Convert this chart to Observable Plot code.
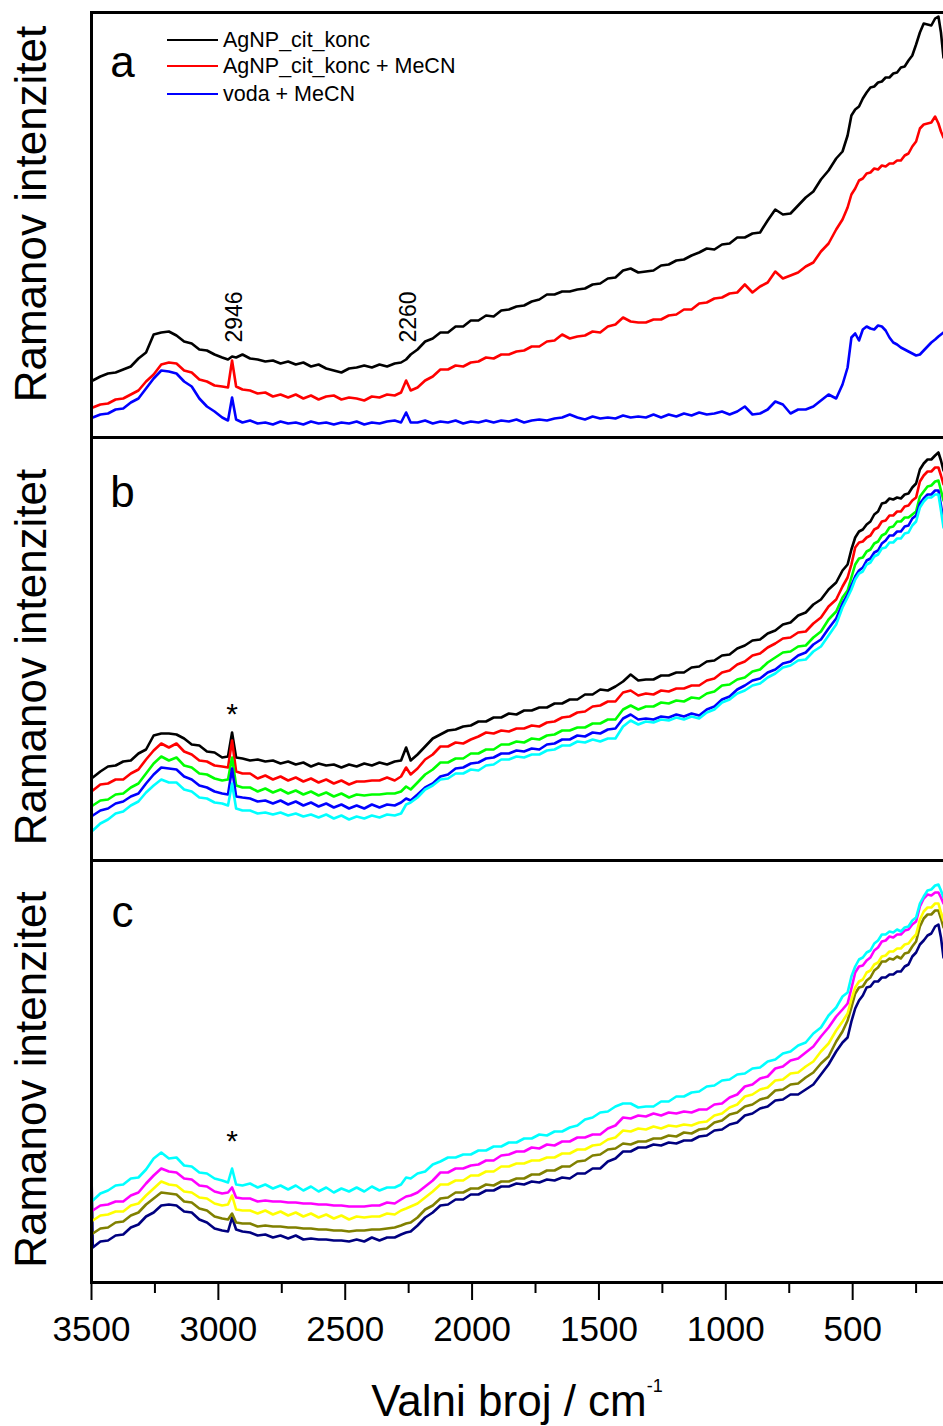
<!DOCTYPE html>
<html><head><meta charset="utf-8">
<script src="https://cdn.jsdelivr.net/npm/d3@7"></script>
<script src="https://cdn.jsdelivr.net/npm/@observablehq/plot@0.6"></script>
<style>
body{margin:0;background:#fff;font-family:"Liberation Sans",Arial,sans-serif;}
#wrap{position:relative;width:943px;height:1426px;overflow:hidden;}
#wrap svg{display:block;}
.leg{position:absolute;left:167px;height:24px;display:flex;align-items:center;font-size:21.5px;color:#000;white-space:nowrap;}
.leg span.ln{display:inline-block;width:51px;height:0;border-top:2px solid;margin-right:5px;}
#xlab{position:absolute;left:91px;width:852px;top:1379px;text-align:center;font-size:44px;line-height:44px;}
#xlab sup{font-size:18px;position:relative;top:-24px;vertical-align:baseline;}
</style></head>
<body><div id="wrap"></div>
<script>
// x axis
const xDomain = [3500, 142];
const majorTicks = [3500, 3000, 2500, 2000, 1500, 1000, 500];
const minorTicks = [3250, 2750, 2250, 1750, 1250, 750, 250];
const yLabel = "Ramanov intenzitet";
const xLabel = "Valni broj / cm";

// shared wavenumber sampling (cm-1)
const wn = [3500,
  3495,3465,3435,3405,3375,3345,3315,3285,3255,3225,3195,3165,3135,3105,3075,3045,3015,2985,
  2962,2946,2930,
  2905,2875,2845,2815,2785,2755,2725,2695,2665,2635,2605,2575,2545,2515,2485,2455,2425,2395,2365,2335,2305,2280,
  2260,2242,
  2215,2185,2155,2125,2095,2065,2035,2005,1975,1945,1915,1885,1855,1825,1795,1765,1735,1705,1675,1645,1615,1585,1555,1525,1495,1465,1435,1405,1375,1345,1315,1285,1255,1225,1195,1165,1135,1105,1075,1045,1015,985,955,925,895,865,835,805,775,745,715,685,655,625,595,565,540,
  520,505,490,475,460,445,430,415,400,385,370,355,340,325,310,295,280,265,250,235,220,205,190,175,162,152,142];

// panel a intensities (a.u.)
const a_black = [57,
  57,61,64,65,68,71,79,85,103,105,106,102,96,94,88,87,83,80,
  78,81,80,
  83,79,78,76,77,74,76,73,75,71,73,69,67,65,69,70,72,70,73,71,74,75,
  78,83,
  88,96,99,105,105,111,111,117,117,122,121,127,128,131,132,136,138,143,143,146,146,148,149,153,154,159,160,167,169,165,166,167,172,173,177,178,182,185,189,188,193,194,200,200,204,205,217,228,223,224,232,240,246,258,267,279,286,
  302,322,328,331,339,345,350,351,355,356,360,360,364,365,370,371,377,382,393,405,414,413,412,419,421,405,380];
const a_red = [30,
  30,33,34,38,39,43,47,56,63,73,75,74,67,65,58,56,52,51,
  50,77,51,
  48,47,44,45,41,43,40,43,39,42,38,41,42,38,40,39,37,41,40,43,42,45,
  57,47,
  50,57,61,68,68,72,71,75,76,80,79,83,83,86,87,91,91,96,97,103,99,101,102,106,105,111,113,120,116,115,115,118,118,122,123,128,128,134,135,139,140,144,145,153,145,151,155,166,159,162,165,171,175,186,194,208,218,
  230,243,249,257,259,264,265,269,268,272,271,274,274,277,277,282,284,291,296,309,313,314,315,321,314,306,300];
const a_blue = [20,
  20,23,24,28,29,35,39,49,59,67,66,64,56,51,39,31,26,20,
  17,40,18,
  15,17,14,15,13,16,14,15,13,16,14,15,13,15,14,16,13,15,14,16,17,15,
  25,15,
  15,17,14,16,15,17,14,16,15,17,15,17,16,18,15,17,18,17,19,20,23,20,18,21,19,20,19,22,20,21,20,23,20,23,21,24,22,25,23,24,26,23,26,31,23,24,28,36,33,24,28,28,31,37,43,39,53,
  70,100,104,97,108,111,109,108,112,111,107,100,95,93,90,88,86,84,82,83,87,91,95,98,101,103,105];

// panel b intensities (a.u.)
const b_black = [83,
  83,89,94,95,99,100,107,111,125,127,127,126,122,116,115,109,108,103,
  104,128,103,
  102,100,101,99,100,97,99,96,98,94,97,95,96,93,96,94,97,95,98,96,99,100,
  113,100,
  106,114,122,126,130,131,134,135,139,139,143,143,147,146,150,150,153,153,157,157,161,161,166,166,171,170,174,179,186,180,181,181,185,185,188,188,193,194,199,200,205,206,212,215,220,221,227,230,236,238,245,248,256,261,271,278,290,
  296,311,323,329,331,336,339,346,349,357,358,362,361,363,362,366,367,373,377,391,397,401,401,405,408,400,390];
const b_red = [70,
  70,76,77,81,81,87,91,101,110,117,113,117,109,106,100,99,95,94,
  93,120,89,
  87,87,82,85,81,84,80,83,79,82,78,81,77,80,76,79,79,80,80,83,80,84,
  93,86,
  92,101,106,114,114,118,117,121,124,128,127,130,129,132,132,135,134,138,139,143,144,148,149,154,155,159,159,168,170,165,167,166,170,169,172,172,175,175,180,182,188,190,196,199,205,207,213,217,222,223,228,229,237,243,254,261,274,
  283,296,313,318,319,323,325,331,333,339,340,345,345,349,349,354,355,360,363,379,385,389,389,393,393,385,376];
const b_green = [55,
  55,60,61,66,67,73,77,87,97,104,100,103,95,93,87,86,82,80,
  81,103,75,
  73,73,69,72,68,71,67,70,66,69,65,68,64,67,63,66,65,66,66,67,67,69,
  74,71,
  78,86,91,98,98,102,102,107,107,111,111,116,116,119,118,122,121,125,126,130,130,133,133,137,137,141,141,151,155,151,154,154,158,157,160,159,163,162,167,169,175,176,181,183,189,191,198,203,208,209,214,215,223,229,241,249,263,
  270,283,296,302,303,309,311,317,319,325,327,333,334,339,339,343,343,346,349,364,369,374,375,379,380,370,360];
const b_blue = [45,
  45,50,52,57,59,64,67,77,86,93,92,91,84,81,75,73,69,67,
  66,92,64,
  63,62,59,60,57,60,56,59,55,58,54,57,53,56,52,55,52,56,53,56,55,58,
  62,60,
  66,73,77,84,86,92,93,97,98,102,103,107,107,110,109,112,111,116,117,121,121,125,124,128,127,131,132,142,146,141,142,141,144,143,146,144,147,145,151,154,161,164,171,175,180,182,188,191,197,199,205,208,216,221,232,242,257,
  266,275,284,290,293,300,302,308,310,317,320,325,325,329,329,334,335,342,345,357,362,366,366,370,370,355,340];
const b_cyan = [30,
  30,37,41,47,49,55,59,68,75,81,78,78,71,69,63,62,58,57,
  55,77,52,
  50,50,47,48,46,48,45,47,44,46,43,46,42,45,41,44,42,45,43,46,45,47,
  56,58,
  63,71,75,81,82,87,87,91,90,95,96,101,101,104,103,106,106,110,111,115,115,119,118,121,119,122,122,134,140,136,139,138,141,140,143,141,144,142,148,151,158,161,167,170,175,177,183,187,193,195,200,201,209,214,225,236,253,
  263,271,281,287,289,296,298,304,306,312,313,318,318,322,322,327,328,335,339,353,359,363,363,366,366,350,333];

// panel c intensities (a.u.)
const c_cyan = [82,
  82,89,92,97,98,104,105,113,124,130,124,125,117,116,110,109,104,102,
  100,114,98,
  97,99,95,98,94,97,93,97,92,96,91,95,90,94,91,95,91,96,92,95,95,98,
  105,104,
  109,111,118,121,125,125,128,128,132,132,136,136,140,140,144,144,148,147,151,151,155,157,163,165,170,171,176,179,179,175,176,176,181,181,186,186,190,191,196,197,202,203,208,209,214,215,221,223,229,231,237,240,249,255,267,275,286,
  290,306,316,323,325,330,332,339,342,348,348,351,350,353,351,355,356,362,365,379,386,392,393,397,398,392,385];
const c_magenta = [72,
  72,77,78,81,81,87,90,99,107,114,111,110,104,103,97,96,91,89,
  90,95,85,
  84,84,81,82,81,81,80,80,79,79,78,78,77,77,76,76,76,77,77,80,79,83,
  86,87,
  90,96,102,110,110,114,114,117,118,122,122,127,128,131,131,135,134,138,137,141,141,145,145,148,148,154,157,165,164,167,166,169,167,170,169,171,170,173,173,178,179,185,188,196,198,204,206,214,216,222,224,230,236,246,255,266,273,
  279,294,310,316,317,322,325,332,335,341,342,346,345,348,348,352,353,358,361,376,384,388,387,390,390,385,379];
const c_yellow = [62,
  62,67,68,71,71,77,79,87,94,101,98,97,91,90,85,84,79,77,
  78,87,73,
  72,72,69,72,68,71,67,70,66,69,65,68,64,67,63,66,65,66,66,69,68,72,
  74,76,
  79,85,91,98,98,102,102,107,107,111,111,116,116,119,119,122,122,125,125,129,129,133,133,137,138,143,145,152,151,154,153,156,154,157,156,158,157,160,161,167,169,175,178,186,188,193,195,202,203,209,210,216,221,231,239,252,261,
  269,283,295,301,303,310,312,318,320,326,327,331,331,334,334,338,339,344,348,363,371,375,375,379,379,370,362];
const c_olive = [49,
  49,54,55,60,61,67,70,78,84,90,89,88,81,80,74,72,66,64,
  63,69,60,
  59,59,56,57,56,56,55,55,54,54,53,53,52,52,51,52,52,53,53,54,55,57,
  59,60,
  65,73,77,84,85,90,90,94,94,98,97,101,101,104,104,108,108,112,112,116,116,121,122,127,128,133,134,139,138,141,141,144,144,147,146,150,149,153,154,160,162,168,170,176,178,183,185,192,193,198,199,205,210,219,226,241,251,
  262,275,289,295,296,302,305,312,315,321,321,324,323,326,324,329,330,336,341,356,364,368,368,372,372,364,355];
const c_navy = [109,
  35,41,42,47,48,55,58,66,70,77,78,77,71,70,63,60,54,52,
  51,65,53,
  51,50,47,48,45,47,44,47,43,44,43,43,42,42,41,43,41,45,42,45,45,48,
  50,51,
  57,65,70,77,78,83,83,88,88,92,92,96,96,99,98,101,100,103,102,105,104,109,109,114,114,121,124,131,131,135,135,138,137,140,139,142,142,146,147,152,153,158,160,167,169,174,176,182,183,188,188,193,198,208,218,231,240,
  245,261,274,282,287,295,296,301,301,305,305,308,308,311,311,316,318,326,330,338,342,347,349,356,358,345,325];

const legendNames = ["AgNP_cit_konc", "AgNP_cit_konc + MeCN", "voda + MeCN"];
const peakLabels = [{w: 2946, label: "2946"}, {w: 2260, label: "2260"}];
const starPeaks = [{w: 2946, label: "*"}];

const FONT = "'Liberation Sans', Arial, sans-serif";
const LW = 2.6;

function pts(name, vals) {
  if (vals.length !== wn.length) throw new Error(name + " has " + vals.length + " values, expected " + wn.length);
  return vals.map((v, i) => ({w: wn[i], v}));
}

function lines(series) {
  return series.map(([name, vals, color]) => Plot.line(pts(name, vals), {x: "w", y: "v", stroke: color, strokeWidth: LW, strokeLinejoin: "round"}));
}

function panel({height, yMax, marginTop = 0, marginBottom = 0, series, letter, letterDy, labelDy, extras = [], axis = false}) {
  const marks = [
    ...lines(series),
    Plot.frame({anchor: "left", stroke: "black", strokeWidth: 3}),
    Plot.frame({anchor: "bottom", stroke: "black", strokeWidth: 3}),
    Plot.frame({anchor: "top", stroke: "black", strokeWidth: 3}),
    Plot.text([letter], {frameAnchor: "top-left", dx: 31, dy: letterDy, fontSize: 44, textAnchor: "middle", lineAnchor: "middle"}),
    Plot.text([yLabel], {frameAnchor: "left", rotate: -90, dx: -60, dy: labelDy, fontSize: 44, textAnchor: "middle", lineAnchor: "middle"}),
    ...extras
  ];
  if (axis) {
    marks.push(Plot.axisX(majorTicks, {tickSize: 18, tickPadding: 16, fontSize: 35, strokeWidth: 2, label: null, tickFormat: d => String(d)}));
    marks.push(Plot.axisX(minorTicks, {tickSize: 11, strokeWidth: 2, label: null, tickFormat: () => ""}));
  }
  return Plot.plot({
    width: 943, height, marginLeft: 91, marginRight: 0, marginTop, marginBottom,
    x: {domain: xDomain, axis: axis ? undefined : null, label: null},
    y: {domain: [0, yMax], axis: null, label: null},
    style: {fontFamily: FONT, background: "white", overflow: "visible", color: "black"},
    marks
  });
}

const wrap = document.getElementById("wrap");

wrap.appendChild(panel({
  height: 437, yMax: 425, marginTop: 12,
  series: [["a_black", a_black, "black"], ["a_red", a_red, "#ff0000"], ["a_blue", a_blue, "#0000ff"]],
  letter: "a", letterDy: 50, labelDy: -11,
  extras: [
    Plot.text(peakLabels, {x: "w", text: "label", frameAnchor: "bottom", dy: -95, rotate: -90, textAnchor: "start", lineAnchor: "middle", fontSize: 23, dx: 3})
  ]
}));

wrap.appendChild(panel({
  height: 423, yMax: 423,
  series: [["b_black", b_black, "black"], ["b_red", b_red, "#ff0000"], ["b_green", b_green, "#00ff00"], ["b_blue", b_blue, "#0000ff"], ["b_cyan", b_cyan, "#00ffff"]],
  letter: "b", letterDy: 55, labelDy: 8,
  extras: [Plot.text(starPeaks, {x: "w", text: "label", frameAnchor: "bottom", dy: -146, fontSize: 30, lineAnchor: "middle"})]
}));

wrap.appendChild(panel({
  height: 497, yMax: 422, marginBottom: 75,
  series: [["c_navy", c_navy, "#000080"], ["c_olive", c_olive, "#808000"], ["c_yellow", c_yellow, "#ffff00"], ["c_magenta", c_magenta, "#ff00ff"], ["c_cyan", c_cyan, "#00ffff"]],
  letter: "c", letterDy: 52, labelDy: 8, axis: true,
  extras: [Plot.text(starPeaks, {x: "w", text: "label", frameAnchor: "bottom", dy: -141, fontSize: 30, lineAnchor: "middle"})]
}));

// legend (panel a)
const legColors = ["black", "#ff0000", "#0000ff"];
const legY = [40, 66, 94];
legendNames.forEach((n, i) => {
  const d = document.createElement("div");
  d.className = "leg";
  d.style.top = (legY[i] - 12) + "px";
  const ln = document.createElement("span");
  ln.className = "ln";
  ln.style.borderTopColor = legColors[i];
  d.appendChild(ln);
  d.appendChild(document.createTextNode(n));
  wrap.appendChild(d);
});

const xl = document.createElement("div");
xl.id = "xlab";
xl.innerHTML = xLabel + "<sup>-1</sup>";
wrap.appendChild(xl);
</script>
</body></html>
